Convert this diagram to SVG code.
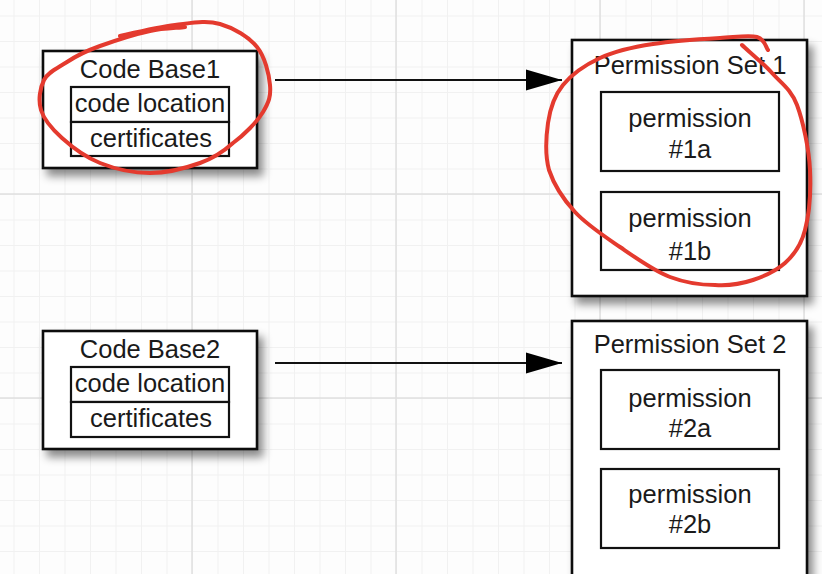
<svg xmlns="http://www.w3.org/2000/svg" width="822" height="574" viewBox="0 0 822 574">
<style>
.t{font-family:"Liberation Sans",Arial,sans-serif;font-size:25.5px;fill:#1a1a1a;text-anchor:middle}
.outer{fill:#fff;stroke:#111;stroke-width:2.6}
.inner{fill:#fff;stroke:#111;stroke-width:2.2}
.minor{stroke:#f1f1f1;stroke-width:1}
.major{stroke:#e0e0e0;stroke-width:1.5}
.conn{stroke:#111;stroke-width:2;fill:none}
.ink{fill:none;stroke:#e43a2e;stroke-width:4;stroke-linecap:round;stroke-linejoin:round}
</style>
<defs>
<pattern id="grid" width="25.5" height="25.5" x="13.5" y="15.5" patternUnits="userSpaceOnUse">
<path d="M0.5,0 V25.5 M0,0.5 H25.5" class="minor"/>
</pattern>
<filter id="sh" x="-20%" y="-20%" width="150%" height="150%">
<feDropShadow dx="5" dy="7" stdDeviation="4" flood-color="#000" flood-opacity="0.45"/>
</filter>
<marker id="ah" markerWidth="37" markerHeight="24" refX="36" refY="12" orient="auto" markerUnits="userSpaceOnUse">
<path d="M0,1.5 L36,12 L0,22.5 Z" fill="#000"/>
</marker>
</defs>
<rect width="822" height="574" fill="#fdfdfd"/>
<rect width="822" height="574" fill="url(#grid)"/>
<g id="grid-major">
<path class="major" d="M192,0 V574 M396,0 V574 M600,0 V574 M804,0 V574 M0,194 H822 M0,398 H822"/>
</g>

<g id="connectors">
<line class="conn" x1="275" y1="80" x2="562" y2="80" marker-end="url(#ah)"/>
<line class="conn" x1="275" y1="363" x2="562" y2="363" marker-end="url(#ah)"/>
</g>

<g id="codebase1">
<rect class="outer" x="43" y="51" width="214" height="117" filter="url(#sh)"/>
<text class="t" x="150" y="78">Code Base1</text>
<rect class="inner" x="71" y="87" width="158" height="35"/>
<rect class="inner" x="71" y="122" width="158" height="34"/>
<text class="t" x="150" y="112">code location</text>
<text class="t" x="151" y="147">certificates</text>
</g>

<g id="codebase2">
<rect class="outer" x="43" y="331" width="214" height="118" filter="url(#sh)"/>
<text class="t" x="150" y="358">Code Base2</text>
<rect class="inner" x="71" y="367" width="158" height="35"/>
<rect class="inner" x="71" y="402" width="158" height="35"/>
<text class="t" x="150" y="392">code location</text>
<text class="t" x="151" y="427">certificates</text>
</g>

<g id="permset1">
<rect class="outer" x="572" y="40" width="235" height="256" filter="url(#sh)"/>
<text class="t" x="690" y="74">Permission Set 1</text>
</g>
<g id="perm1a">
<rect class="inner" x="601" y="92" width="178" height="79"/>
<text class="t" x="690" y="127">permission</text>
<text class="t" x="690" y="158">#1a</text>
</g>
<g id="perm1b">
<rect class="inner" x="601" y="192" width="178" height="78"/>
<text class="t" x="690" y="227">permission</text>
<text class="t" x="690" y="260">#1b</text>
</g>

<g id="permset2">
<rect class="outer" x="572" y="321" width="235" height="270" filter="url(#sh)"/>
<text class="t" x="690" y="353">Permission Set 2</text>
</g>
<g id="perm2a">
<rect class="inner" x="601" y="370" width="178" height="79"/>
<text class="t" x="690" y="407">permission</text>
<text class="t" x="690" y="437">#2a</text>
</g>
<g id="perm2b">
<rect class="inner" x="601" y="469" width="178" height="79"/>
<text class="t" x="690" y="503">permission</text>
<text class="t" x="690" y="533">#2b</text>
</g>

<g id="annotations">
<path class="ink" d="M120,36 C129,34 158,27 175,25 C192,23 206,20 220,24 C234,28 249,37 257,47 C265,57 269,74 270,85 C271,96 269,102 263,112 C257,122 244,135 233,143 C223,152 214,158 200,163 C186,168 167,173 150,173 C133,173 115,169 100,163 C85,157 72,147 62,138 C52,129 44,120 41,110 C38,100 40,88 44,80 C48,72 58,68 67,62 C76,56 86,51 100,46 C114,41 136,34 150,31 C164,28 179,28 185,27"/>
<path class="ink" d="M742,45 C747,50 763,63 772,73 C781,83 791,89 797,105 C803,121 809,149 810,170 C811,191 809,215 805,230 C801,246 794,255 785,263 C776,271 765,276 753,280 C741,284 729,286 715,285 C701,285 686,283 670,277 C654,271 636,258 620,247 C604,236 587,225 575,212 C563,199 554,185 549,170 C545,155 546,137 548,123 C550,109 554,96 563,85 C572,74 585,65 600,58 C615,51 633,47 653,44 C673,41 703,39 720,38 C737,37 749,35 757,37 C765,39 766,48 768,50"/>
</g>
</svg>
